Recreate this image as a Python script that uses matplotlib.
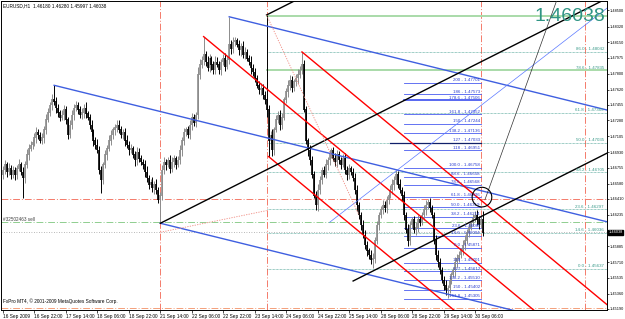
import matplotlib
matplotlib.use("Agg")
import matplotlib.pyplot as plt
import matplotlib.transforms as mtrans
import numpy as np

plt.rcParams['font.family'] = ['Liberation Sans', 'DejaVu Sans']

# ---------------- EURUSD H1 candles (open = previous close) ----------------
first_open = 1.4668
closes = [
    1.4673, 1.4679, 1.4671, 1.4675, 1.4668, 1.4673, 1.4668, 1.4675, 1.4679, 1.4671,
    1.4664, 1.4679, 1.4690, 1.4697, 1.4701, 1.4704, 1.4709, 1.4715, 1.4712, 1.4706,
    1.4709, 1.4718, 1.4729, 1.4737, 1.4745, 1.4751, 1.4749, 1.4742, 1.4737, 1.4731,
    1.4734, 1.4740, 1.4729, 1.4712, 1.4723, 1.4734, 1.4742, 1.4745, 1.4740, 1.4734,
    1.4737, 1.4742, 1.4736, 1.4731, 1.4723, 1.4715, 1.4706, 1.4701, 1.4695, 1.4673,
    1.4662, 1.4679, 1.4690, 1.4697, 1.4706, 1.4712, 1.4718, 1.4720, 1.4723, 1.4718,
    1.4712, 1.4715, 1.4706, 1.4701, 1.4695, 1.4697, 1.4690, 1.4684, 1.4693, 1.4686,
    1.4682, 1.4679, 1.4671, 1.4664, 1.4657, 1.4660, 1.4653, 1.4657, 1.4651, 1.4640,
    1.4645, 1.4673, 1.4682, 1.4679, 1.4684, 1.4675, 1.4682, 1.4686, 1.4679, 1.4684,
    1.4695, 1.4706, 1.4715, 1.4718, 1.4712, 1.4723, 1.4731, 1.4726, 1.4734, 1.4779,
    1.4790, 1.4795, 1.4801, 1.4793, 1.4786, 1.4797, 1.4790, 1.4784, 1.4793, 1.4790,
    1.4784, 1.4793, 1.4797, 1.4788, 1.4795, 1.4812, 1.4808, 1.4815, 1.4817, 1.4812,
    1.4806, 1.4810, 1.4801, 1.4804, 1.4797, 1.4793, 1.4786, 1.4782, 1.4775, 1.4767,
    1.4762, 1.4764, 1.4756, 1.4751, 1.4740, 1.4706, 1.4712, 1.4695, 1.4718, 1.4729,
    1.4734, 1.4723, 1.4731, 1.4751, 1.4760, 1.4767, 1.4773, 1.4764, 1.4771, 1.4775,
    1.4779, 1.4784, 1.4790, 1.4740, 1.4706, 1.4695, 1.4684, 1.4668, 1.4645, 1.4634,
    1.4651, 1.4662, 1.4673, 1.4668, 1.4679, 1.4684, 1.4690, 1.4695, 1.4686, 1.4682,
    1.4690, 1.4684, 1.4679, 1.4686, 1.4673, 1.4668, 1.4675, 1.4671, 1.4664, 1.4651,
    1.4634, 1.4623, 1.4612, 1.4601, 1.4590, 1.4584, 1.4579, 1.4573, 1.4575, 1.4595,
    1.4612, 1.4623, 1.4629, 1.4634, 1.4631, 1.4640, 1.4645, 1.4651, 1.4657, 1.4662,
    1.4668, 1.4657, 1.4651, 1.4645, 1.4623, 1.4607, 1.4595, 1.4612, 1.4618, 1.4607,
    1.4609, 1.4618, 1.4615, 1.4623, 1.4629, 1.4634, 1.4637, 1.4631, 1.4623, 1.4595,
    1.4579, 1.4571, 1.4562, 1.4551, 1.4545, 1.4540, 1.4542, 1.4551, 1.4557, 1.4562,
    1.4571, 1.4575, 1.4579, 1.4584, 1.4590, 1.4595, 1.4604, 1.4609, 1.4615, 1.4620,
    1.4623, 1.4618, 1.4612, 1.4618, 1.46038,
]
# wick lengths in pips above / below the body
upper_wick = [
    4, 5, 3, 6, 4, 5, 3, 4, 6, 3, 5, 4, 6, 5, 4, 3, 5, 6, 4, 3,
    5, 4, 6, 5, 4, 6, 16, 5, 4, 3, 6, 5, 4, 3, 5, 6, 4, 5, 3, 4,
    5, 4, 6, 3, 4, 5, 3, 4, 6, 5, 4, 3, 5, 4, 6, 5, 3, 4, 5, 6,
    4, 3, 5, 6, 4, 5, 3, 4, 6, 5, 4, 3, 5, 6, 4, 3, 5, 4, 6, 3,
    4, 6, 5, 3, 4, 6, 5, 4, 3, 5, 6, 4, 5, 3, 4, 6, 5, 4, 3, 8,
    6, 5, 20, 4, 6, 5, 3, 4, 6, 5, 4, 3, 5, 6, 4, 31, 5, 6, 4, 3,
    5, 4, 6, 5, 3, 4, 6, 5, 4, 3, 5, 6, 4, 5, 94, 5, 4, 6, 3, 5,
    4, 6, 5, 3, 4, 6, 5, 4, 3, 5, 6, 4, 14, 5, 4, 3, 6, 5, 4, 5,
    6, 4, 3, 5, 6, 4, 5, 3, 4, 6, 5, 4, 3, 5, 6, 4, 5, 3, 4, 6,
    5, 4, 3, 6, 5, 4, 3, 5, 6, 4, 5, 3, 4, 6, 5, 4, 3, 5, 6, 4,
    5, 4, 6, 3, 5, 4, 6, 5, 3, 4, 6, 5, 4, 3, 5, 6, 4, 5, 3, 4,
    6, 5, 4, 3, 5, 6, 4, 5, 3, 4, 6, 5, 4, 3, 5, 6, 4, 5, 3, 4,
    5, 6, 4, 5, 10,
]
lower_wick = [
    5, 4, 6, 3, 5, 4, 6, 5, 3, 4, 22, 5, 4, 6, 3, 5, 4, 6, 5, 3,
    4, 6, 5, 3, 4, 5, 4, 6, 5, 4, 3, 6, 5, 4, 3, 5, 6, 4, 5, 3,
    4, 6, 5, 3, 5, 4, 6, 5, 3, 4, 14, 5, 4, 6, 3, 5, 4, 6, 5, 4,
    3, 5, 6, 4, 5, 3, 4, 6, 5, 4, 3, 5, 6, 4, 5, 3, 4, 6, 5, 4,
    26, 5, 4, 6, 3, 5, 4, 6, 5, 3, 4, 6, 5, 4, 3, 5, 6, 4, 5, 4,
    5, 4, 6, 5, 3, 4, 6, 5, 4, 3, 5, 6, 4, 5, 3, 4, 6, 5, 4, 3,
    5, 6, 4, 5, 3, 4, 6, 5, 4, 3, 5, 6, 4, 5, 8, 18, 4, 6, 5, 3,
    4, 6, 5, 3, 4, 6, 5, 4, 3, 5, 6, 4, 5, 3, 4, 6, 5, 4, 3, 5,
    6, 4, 5, 3, 4, 6, 5, 4, 3, 5, 6, 4, 5, 3, 4, 6, 5, 4, 3, 5,
    6, 4, 5, 3, 4, 6, 5, 4, 9, 5, 4, 6, 3, 5, 4, 6, 5, 3, 4, 6,
    5, 4, 3, 6, 5, 4, 6, 5, 3, 4, 6, 5, 4, 3, 5, 6, 4, 5, 3, 4,
    6, 5, 4, 3, 5, 6, 9, 5, 4, 3, 6, 5, 4, 3, 5, 6, 4, 5, 3, 4,
    5, 6, 4, 3, 4,
]

time_ticks = [0, 16, 32, 48, 64, 80, 96, 112, 128, 144, 160, 176, 192, 208, 224, 240]
time_labels = ["16 Sep 2009", "16 Sep 22:00", "17 Sep 14:00", "18 Sep 06:00",
               "18 Sep 22:00", "21 Sep 14:00", "22 Sep 06:00", "22 Sep 22:00",
               "23 Sep 14:00", "24 Sep 06:00", "24 Sep 22:00", "25 Sep 14:00",
               "28 Sep 06:00", "28 Sep 22:00", "29 Sep 14:00", "30 Sep 06:00"]
price_ticks = [1.48500, 1.48320, 1.48150, 1.47975, 1.47800, 1.47620, 1.47455,
               1.47280, 1.47105, 1.46930, 1.46755, 1.46580, 1.46410, 1.46235,
               1.45885, 1.45710, 1.45535, 1.45360, 1.45190]
last_price = 1.46038

# green fibo (retracement of the 23 Sep spike)
green_fib_names = ["86.0", "78.6", "61.8", "50.0", "38.2", "23.6", "14.6", "0.0"]
green_fib_prices = [1.48042, 1.47835, 1.47365, 1.47035, 1.46705, 1.46297, 1.46036, 1.45637]
green_fib_top = 1.48439
# blue fibo
blue_fib_names = ["200", "186", "178.6", "161.8", "150", "138.2", "127", "118", "100.0",
                  "88.6", "78.6", "61.8", "50.0", "38.2", "23.6", "14.6", "0.0",
                  "118", "127", "138.2", "150", "161.8"]
blue_fib_prices = [1.47701, 1.47573, 1.47506, 1.47352, 1.47244, 1.47136, 1.47033, 1.46951,
                   1.46758, 1.46658, 1.46568, 1.46426, 1.46319, 1.46214, 1.46085, 1.46004,
                   1.45871, 1.45701, 1.45612, 1.45510, 1.45402, 1.45305]
blue_fib_start, blue_fib_end = 204, 243

# pitchfork anchors (bar indices)
blue_fork_bars = (26, 80, 115)      # high, low, high
red_fork_bars = (102, 135, 152)     # high, low, high
black_base = (80, 212, 1.4759)      # from low of bar 80 through (212, price)
black_lower_start = 178
thin_blue_ray = [(166, 1.4615), (242, 1.4743)]
thin_black_ray = [(245, 1.4640), (262, 1.4743)]
red_dotted = [[(134, 1.4845), (181, 1.4623)], [(80, 1.4604), (134, 1.4628)]]
vlines = [80, 134, 243, 296]
sl_price, order_price, tp_price = 1.4641, 1.4615, 1.4520
circle_at = (243.5, 1.4643)

# ---------------- figure ----------------
W, H = 625, 319
fig = plt.figure(figsize=(W / 100, H / 100), dpi=100)
ax = fig.add_axes([1 / W, 9 / H, 606 / W, 309 / H])
XMIN, XMAX = -1.017, 307.07
ax.set_xlim(XMIN, XMAX)
ax.set_ylim(1.45178, 1.48605)

closes = np.array(closes)
opens = np.concatenate([[first_open], closes[:-1]])
highs = np.maximum(opens, closes) + np.array(upper_wick) * 0.0001
lows = np.minimum(opens, closes) - np.array(lower_wick) * 0.0001
xs = np.arange(len(closes))
cols = np.where(closes >= opens, '#8c8c8c', '#000000')
ax.vlines(xs, lows, highs, colors=cols, lw=0.7, zorder=3)
ax.vlines(xs, np.minimum(opens, closes) - 0.00003, np.maximum(opens, closes) + 0.00003,
          colors=cols, lw=1.2, zorder=3)

dashdot = (0, (7, 2, 1, 2))

# horizontal order / level lines
ax.axhline(sl_price, color='#f47a6a', lw=0.7, ls=dashdot, zorder=2)
ax.axhline(order_price, color='#8fce8f', lw=0.7, ls=dashdot, zorder=2)
ax.axhline(tp_price, color='#f4a07a', lw=0.7, ls=dashdot, zorder=2)
ax.axhline(last_price, color='#a0a0a0', lw=0.6, ls=(0, (1, 2)), zorder=2)
for v in vlines:
    ax.axvline(v, color='#f47a6a', lw=0.7, ls=dashdot, zorder=2)


def ray(p1, p2, x0=None, **kw):
    k = (p2[1] - p1[1]) / (p2[0] - p1[0])
    x0 = p1[0] if x0 is None else x0
    xx = np.array([x0, XMAX])
    ax.plot(xx, p1[1] + k * (xx - p1[0]), **kw)


def pitchfork(a, b, c, **kw):
    mx, my = (b[0] + c[0]) / 2, (b[1] + c[1]) / 2
    k = (my - a[1]) / (mx - a[0])
    for px, py in (a, b, c):
        xx = np.array([px, XMAX])
        ax.plot(xx, py + k * (xx - px), **kw)


a, b, c = blue_fork_bars
pitchfork((a, highs[a]), (b, lows[b]), (c, highs[c]), color='#3f5fe0', lw=1.0, zorder=4)
a, b, c = red_fork_bars
pitchfork((a, highs[a]), (b, lows[b]), (c, highs[c]), color='#ff0000', lw=1.0, zorder=4)

# black equidistant channel
b0 = black_base[0]
p1, p2 = (b0, lows[b0]), (black_base[1], black_base[2])
k = (p2[1] - p1[1]) / (p2[0] - p1[0])
width = highs[134] - (p1[1] + k * (134 - b0))
ray(p1, p2, color='black', lw=1.0, zorder=4)
ray((134, highs[134]), (135, highs[134] + k), color='black', lw=1.0, zorder=4)
ray((b0, p1[1] - width), (b0 + 1, p1[1] - width + k), x0=black_lower_start,
    color='black', lw=1.0, zorder=4)

ray(*thin_blue_ray, color='#5a78ff', lw=0.5, zorder=4)
ray(*thin_black_ray, color='#303030', lw=0.5, zorder=4)
for seg in red_dotted:
    ax.plot([seg[0][0], seg[1][0]], [seg[0][1], seg[1][1]], color='#f08a80',
            lw=0.6, ls=(0, (1.5, 1.5)), zorder=4)

# green fibo levels
thick_green = ["78.6"]
ax.plot([134, XMAX], [green_fib_top] * 2, color='#a9dba9', lw=1.4, zorder=2)
for name, p in zip(green_fib_names, green_fib_prices):
    if name in thick_green:
        ax.plot([134, XMAX], [p, p], color='#a9dba9', lw=1.4, zorder=2)
    else:
        ax.plot([134, XMAX], [p, p], color='#3a9a8a', lw=0.5, ls=(0, (1, 1)), zorder=2)
    ax.text(305.5, p + 0.00004, f"{name} - {p:.5f}", fontsize=3.2, color='#3a9a8a',
            ha='right', va='bottom', zorder=5)

# blue fibo levels
for name, p in zip(blue_fib_names, blue_fib_prices):
    if name == "127" and p > 1.47:
        ax.plot([197, blue_fib_end], [p, p], color='#10206a', lw=0.9, zorder=2)
    else:
        ax.plot([blue_fib_start, blue_fib_end], [p, p], color='#4a5cf0',
                lw=1.3 if name == "178.6" else 0.6, zorder=2)
    ax.text(blue_fib_end - 0.5, p + 0.00004, f"{name} - {p:.5f}", fontsize=3.2,
            color='#2a3cd0', ha='right', va='bottom', zorder=5)

ax.scatter([circle_at[0]], [circle_at[1]], s=200, facecolors='none',
           edgecolors='black', linewidths=0.8, zorder=6)

# texts
px = mtrans.blended_transform_factory(ax.transAxes, ax.transData)
ax.text(2 / 606, 1 - 5 / 309, "EURUSD,H1  1.46180 1.46280 1.45997 1.46038",
        transform=ax.transAxes, fontsize=3.4, va='center', ha='left')
ax.text(2 / 606, 9 / 309, "FxPro MT4, \u00a9 2001-2009 MetaQuotes Software Corp.",
        transform=ax.transAxes, fontsize=3.4, va='center', ha='left')
ax.text(2 / 606, order_price + 0.00005, "#32502463 sell", transform=px,
        fontsize=3.3, color='#404040', va='bottom', ha='left')
fig.text(605 / W, 1 - 21 / H, "1.46038", fontsize=14, color='#2f9484',
         ha='right', va='baseline')
ax.text(1.0025, last_price, "1.46038", transform=px, fontsize=2.8, color='white',
        va='center', ha='left', clip_on=False, zorder=10,
        bbox=dict(facecolor='black', edgecolor='black', pad=0.5))

# axes
ax.yaxis.tick_right()
ax.set_yticks(price_ticks)
ax.set_yticklabels([f"{p:.5f}" for p in price_ticks])
ax.set_xticks(time_ticks)
ax.set_xticklabels(time_labels, ha='left')
ax.tick_params(axis='y', labelsize=2.8, length=1.5, width=0.5, pad=0.6, direction='out')
ax.tick_params(axis='x', labelsize=3.4, length=2, width=0.5, pad=1, direction='out')
for s in ax.spines.values():
    s.set_linewidth(0.7)

fig.savefig("out.png", dpi=100)
